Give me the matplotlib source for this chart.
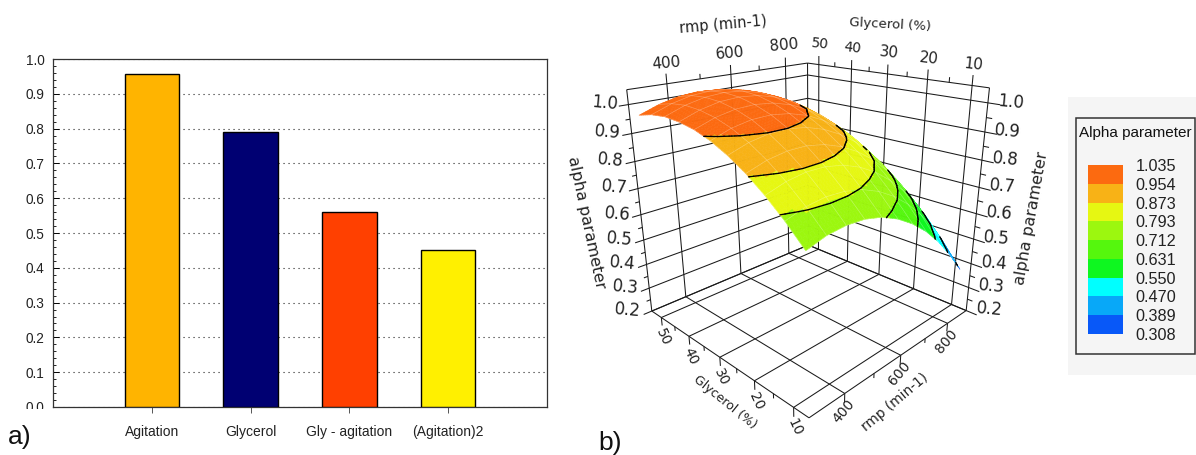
import numpy as np
import matplotlib
matplotlib.use("Agg")
import matplotlib.pyplot as plt
from matplotlib.ticker import FormatStrFormatter
from matplotlib.collections import PolyCollection, LineCollection
from matplotlib.patches import Rectangle

plt.rcParams['font.family'] = ['Liberation Sans', 'DejaVu Sans']

categories = ["Agitation", "Glycerol", "Gly - agitation", "(Agitation)2"]
effects = [0.957, 0.79, 0.56, 0.45]
bar_colors = ["#FFB400", "#000072", "#FF4000", "#FFF000"]

legend_levels = [0.308, 0.389, 0.470, 0.550, 0.631, 0.712, 0.793, 0.873, 0.954, 1.035]
legend_colors = ["#0858F8", "#08A8F8", "#00FFFF", "#0EF720", "#55F70D", "#9CF70F", "#E6F712", "#F8B216", "#FC6A10"]

rmp_grid = [310, 367.3, 424.6, 481.9, 539.2, 596.5, 653.8, 711.1, 768.4, 825.7, 883]
gly_grid = [8.5, 12.95, 17.4, 21.85, 26.3, 30.75, 35.2, 39.65, 44.1, 48.55, 53]
# alpha parameter: one row per glycerol value, one column per rmp value
alpha_surface = np.array([
    [0.717, 0.736, 0.742, 0.737, 0.72, 0.69, 0.649, 0.597, 0.532, 0.455, 0.367],
    [0.78, 0.8, 0.808, 0.804, 0.789, 0.762, 0.724, 0.674, 0.612, 0.538, 0.453],
    [0.834, 0.855, 0.865, 0.863, 0.85, 0.825, 0.789, 0.741, 0.682, 0.611, 0.529],
    [0.88, 0.902, 0.913, 0.913, 0.901, 0.878, 0.844, 0.799, 0.742, 0.674, 0.595],
    [0.917, 0.94, 0.952, 0.953, 0.943, 0.922, 0.89, 0.847, 0.792, 0.727, 0.651],
    [0.946, 0.97, 0.983, 0.985, 0.976, 0.957, 0.926, 0.885, 0.833, 0.77, 0.696],
    [0.966, 0.99, 1.004, 1.007, 1.0, 0.982, 0.953, 0.914, 0.864, 0.803, 0.732],
    [0.977, 1.002, 1.017, 1.021, 1.015, 0.998, 0.971, 0.933, 0.885, 0.826, 0.757],
    [0.981, 1.006, 1.021, 1.026, 1.02, 1.004, 0.978, 0.942, 0.896, 0.839, 0.773],
    [0.975, 1.0, 1.016, 1.021, 1.016, 1.002, 0.977, 0.942, 0.897, 0.843, 0.778],
    [0.961, 0.986, 1.002, 1.008, 1.004, 0.99, 0.966, 0.932, 0.889, 0.836, 0.773],
])

rmp_ticks = [400, 600, 800]
gly_ticks = [50, 40, 30, 20, 10]
z_ticks = [.2, .3, .4, .5, .6, .7, .8, .9, 1.0]
rmp_minor = [500, 700]
gly_minor = [45, 35, 25, 15]
z_minor = [.25, .35, .45, .55, .65, .75, .85, .95]

RMIN, RMAX, GMIN, GMAX, ZMIN, ZTOP = 290, 890, 6.4, 53.7, 0.2, 1.05

# perspective camera of the 3D panel (rmp/1000, glycerol/100, alpha, 1) -> pixels/1000
CAMERA = np.array([[0.898451, 0.123329, -0.198203, 0.724965],
                   [-0.021248, -0.020325, -0.426186, 0.585301],
                   [0.610254, 0.790308, -0.243084, 1.0]])


def project(r, g, z, depth=False):
    r = np.asarray(r, float)
    g = np.asarray(g, float)
    z = np.asarray(z, float)
    X = np.stack(np.broadcast_arrays(r / 1000, g / 100, z, 1.0), -1)
    h = X @ CAMERA.T
    x, y = h[..., 0] / h[..., 2] * 1000, h[..., 1] / h[..., 2] * 1000
    return (x, y, h[..., 2]) if depth else (x, y)


fig = plt.figure(figsize=(11.96, 4.55), dpi=100)
W, H = 1196, 455


def axrect(x0, y0, x1, y1):
    return [x0 / W, 1 - y1 / H, (x1 - x0) / W, (y1 - y0) / H]


# ---------- panel b: 3D scene ----------
sc = fig.add_axes([0, 0, 1, 1])
sc.set_xlim(0, W)
sc.set_ylim(H, 0)
sc.axis('off')
LC = '#1a1a1a'


def line3(r, g, z, lw=.75):
    x, y = project(r, g, z)
    sc.plot(x, y, color=LC, lw=lw, solid_capstyle='butt', zorder=2)


for r, g in [(RMIN, GMAX), (RMAX, GMAX), (RMAX, GMIN)]:
    line3([r, r], [g, g], [ZMIN, ZTOP])
line3([RMIN, RMAX], [GMAX, GMAX], [ZTOP, ZTOP])
line3([RMAX, RMAX], [GMAX, GMIN], [ZTOP, ZTOP])
line3([RMIN, RMAX], [GMAX, GMAX], [ZMIN, ZMIN])
line3([RMAX, RMAX], [GMAX, GMIN], [ZMIN, ZMIN])
line3([RMIN, RMAX], [GMIN, GMIN], [ZMIN, ZMIN])
line3([RMIN, RMIN], [GMIN, GMAX], [ZMIN, ZMIN])
for r in rmp_ticks:
    line3([r, r], [GMIN, GMAX], [ZMIN, ZMIN])
    line3([r, r], [GMAX, GMAX], [ZMIN, ZTOP + .035])
    line3([r, r], [GMIN, GMIN], [ZMIN, ZMIN - .035])
for g in gly_ticks:
    line3([RMIN, RMAX], [g, g], [ZMIN, ZMIN])
    line3([RMAX, RMAX], [g, g], [ZMIN, ZTOP + .035])
    line3([RMIN, RMIN], [g, g], [ZMIN, ZMIN - .035])
for z in z_ticks:
    line3([RMIN - 25, RMAX], [GMAX, GMAX], [z, z])
    line3([RMAX, RMAX], [GMAX, GMIN - 2.5], [z, z])
for r in rmp_minor:
    line3([r, r], [GMAX, GMAX], [ZTOP, ZTOP + .018])
    line3([r, r], [GMIN, GMIN], [ZMIN, ZMIN - .018])
for g in gly_minor:
    line3([RMAX, RMAX], [g, g], [ZTOP, ZTOP + .018])
    line3([RMIN, RMIN], [g, g], [ZMIN, ZMIN - .018])
for z in z_minor:
    line3([RMIN - 12, RMIN], [GMAX, GMAX], [z, z])
    line3([RMAX, RMAX], [GMIN, GMIN - 1.2], [z, z])

# surface: table cells are split only for painting the bands; far cells first,
# and cells turned away from the viewer (behind the fold) are left out
N = 6
nr, ng = len(rmp_grid), len(gly_grid)
ii = np.linspace(0, nr - 1, (nr - 1) * N + 1)
jj = np.linspace(0, ng - 1, (ng - 1) * N + 1)
rf = np.interp(ii, np.arange(nr), rmp_grid)
gf = np.interp(jj, np.arange(ng), gly_grid)
i0 = np.clip(ii.astype(int), 0, nr - 2)
j0 = np.clip(jj.astype(int), 0, ng - 2)
a = (ii - i0)[None, :]
b = (jj - j0)[:, None]
T = alpha_surface
Zf = (T[np.ix_(j0, i0)] * (1 - a) * (1 - b) + T[np.ix_(j0, i0 + 1)] * a * (1 - b)
      + T[np.ix_(j0 + 1, i0)] * (1 - a) * b + T[np.ix_(j0 + 1, i0 + 1)] * a * b)
Rf, Gf = np.meshgrid(rf, gf)
Xs, Ys, Ws = project(Rf, Gf, Zf, depth=True)
q = np.stack([np.stack([Xs[:-1, :-1], Ys[:-1, :-1]], -1), np.stack([Xs[:-1, 1:], Ys[:-1, 1:]], -1),
              np.stack([Xs[1:, 1:], Ys[1:, 1:]], -1), np.stack([Xs[1:, :-1], Ys[1:, :-1]], -1)], 2)
area = .5 * ((q[..., 2, 0] - q[..., 0, 0]) * (q[..., 3, 1] - q[..., 1, 1])
             - (q[..., 3, 0] - q[..., 1, 0]) * (q[..., 2, 1] - q[..., 0, 1]))
zc = .25 * (Zf[:-1, :-1] + Zf[:-1, 1:] + Zf[1:, 1:] + Zf[1:, :-1])
wc = .25 * (Ws[:-1, :-1] + Ws[:-1, 1:] + Ws[1:, 1:] + Ws[1:, :-1])
band = np.clip(np.searchsorted(legend_levels, zc) - 1, 0, len(legend_colors) - 1)
front = area * np.sign(np.median(area)) > 0
cols = np.array(legend_colors)[band]
order = np.argsort(-wc[front])
sc.add_collection(PolyCollection(q[front][order], facecolors=cols[front][order],
                                 edgecolors=cols[front][order], linewidths=.4, zorder=3))
seg = []
for j in range(q.shape[0]):
    for i in range(q.shape[1]):
        if front[j, i]:
            if j % N == 0:
                seg.append(q[j, i, [0, 1]])
            if i % N == 0:
                seg.append(q[j, i, [0, 3]])
sc.add_collection(LineCollection(seg, colors='white', alpha=.3, linewidths=.5, zorder=4))

seg = []
tf, tax = plt.subplots()
cs = tax.contour(Rf, Gf, Zf, levels=legend_levels[1:-1])
for lev, pth in zip(legend_levels[1:-1], cs.get_paths()):
    if len(pth.vertices) == 0:
        continue
    for sub in pth.to_polygons(closed_only=False):
        fi = np.clip(np.interp(sub[:, 0], rf, np.arange(len(rf))).astype(int), 0, len(rf) - 2)
        fj = np.clip(np.interp(sub[:, 1], gf, np.arange(len(gf))).astype(int), 0, len(gf) - 2)
        ok = front[fj, fi]
        x, y = project(sub[:, 0], sub[:, 1], lev)
        for k in range(len(sub) - 1):
            if ok[k] and ok[k + 1]:
                seg.append([(x[k], y[k]), (x[k + 1], y[k + 1])])
sc.add_collection(LineCollection(seg, colors='black', linewidths=.95, zorder=5, capstyle='round'))
plt.close(tf)

TF = dict(family='DejaVu Sans', color='#222222', ha='center', va='center')


def lab(r, g, z, dx, dy, s, size, rot):
    x, y = project(r, g, z)
    sc.text(float(x) + dx, float(y) + dy, s, fontsize=size, rotation=rot, rotation_mode='anchor', **TF)


for r in rmp_ticks:
    lab(r, GMAX, ZTOP, -1, -21, str(r), 11, 5)
    lab(r, GMIN, ZMIN, -1, 18, str(r), 10, 50)
for g in gly_ticks:
    lab(RMAX, g, ZTOP, 1, -21, str(g), 10 if g > 30 else 11, -6)
    lab(RMIN, g, ZMIN, 1.5, 20, str(g), 10, -65)
for z in z_ticks:
    lab(RMIN, GMAX, z, -24, -1, f"{z:.1f}", 12, -5)
    lab(RMAX, GMIN, z, 23, -1, f"{z:.1f}", 12, -5)
for x, y, s, sz, rot in [(723, 25, "rmp (min-1)", 10.5, 5), (890, 25, "Glycerol (%)", 9.5, -3),
                         (586, 222, "alpha parameter", 11.5, -78), (1031, 218, "alpha parameter", 11.5, 80),
                         (725, 402, "Glycerol (%)", 9, -39), (895, 402, "rmp (min-1)", 9.8, 40)]:
    sc.text(x, y, s, fontsize=sz, rotation=rot, rotation_mode='anchor', **TF)

# ---------- panel a: bars ----------
ax = fig.add_axes(axrect(53, 59, 547, 407), facecolor='white')
pos = np.arange(1, 5)
ax.bar(pos, effects, width=.55, color=bar_colors, edgecolor='black', lw=1, zorder=3)
ax.set_xlim(0, 5)
ax.set_ylim(0, 1)
ax.set_yticks(np.arange(0, 1.01, .1))
ax.set_yticks(np.arange(0, 1.001, .02), minor=True)
ax.set_xticks(pos)
ax.set_xticklabels(categories, fontsize=10, color='#222222')
ax.yaxis.set_major_formatter(FormatStrFormatter('%.1f'))
ax.tick_params(axis='y', which='major', direction='in', length=4, width=.7, labelsize=9.8,
               labelcolor='#222222', pad=6)
ax.tick_params(axis='y', which='minor', direction='in', length=2, width=.6)
ax.tick_params(axis='x', direction='out', length=4, width=.7, color='#555555', pad=9)
ax.grid(axis='y', which='major', color='#222222', ls=(0, (1, 3.5)), lw=.8, zorder=1)
for s in ax.spines.values():
    s.set_linewidth(.9)
    s.set_color('#333333')
fig.add_artist(Rectangle((20 / W, 1 - 418 / H), 32 / W, 9.5 / H, fc='white', ec='none',
                         transform=fig.transFigure, zorder=10))
fig.text(8 / W, 1 - 437 / H, "a)", fontsize=19, va='center', ha='left', color='#111111')
fig.text(598 / W, 1 - 443 / H, "b)", fontsize=19, va='center', ha='left', color='#111111')

# ---------- legend ----------
fig.add_artist(Rectangle((1068 / W, 1 - 375 / H), 128 / W, 278 / H, fc='#F5F5F5', ec='none',
                         transform=fig.transFigure, zorder=-1))
fig.add_artist(Rectangle((1075.5 / W, 1 - 354 / H), 119 / W, 236 / H, fc='none', ec='#333333', lw=1.1,
                         transform=fig.transFigure))
fig.text(1135 / W, 1 - 133 / H, "Alpha parameter", fontsize=11, ha='center', va='center', color='#111111')
lg = fig.add_axes(axrect(1088, 165, 1123, 334))
for i, c in enumerate(legend_colors):
    lg.bar(0, legend_levels[i + 1] - legend_levels[i], bottom=legend_levels[i], width=1, color=c)
lg.set_xlim(-.5, .5)
lg.set_ylim(legend_levels[0], legend_levels[-1])
lg.set_xticks([])
lg.yaxis.tick_right()
lg.set_yticks(legend_levels)
lg.yaxis.set_major_formatter(FormatStrFormatter('%.3f'))
lg.tick_params(axis='y', length=0, pad=9, labelsize=11.7, labelcolor='#222222')
for s in lg.spines.values():
    s.set_visible(False)

fig.savefig("out.png", dpi=100)
